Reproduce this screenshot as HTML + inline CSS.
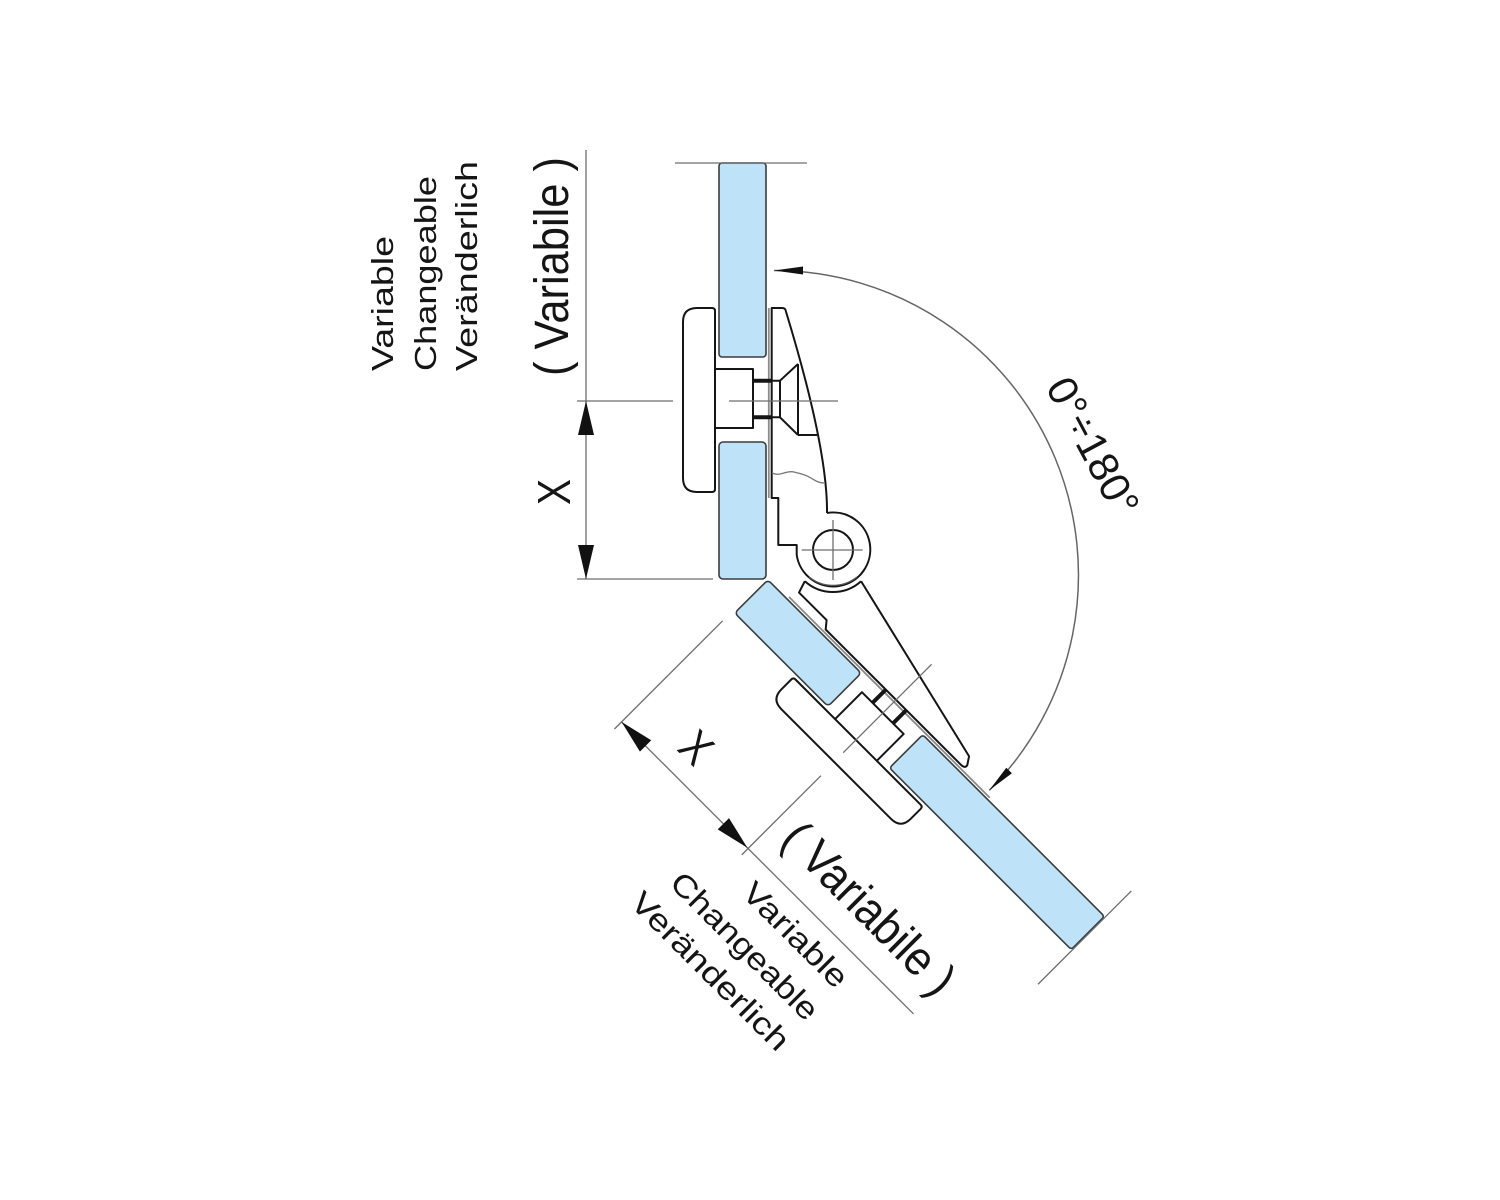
<!DOCTYPE html>
<html>
<head>
<meta charset="utf-8">
<style>
html,body{margin:0;padding:0;background:#fff;}
svg{display:block;}
text{font-family:"Liberation Sans",Arial,sans-serif;fill:#151515;}
.gl{fill:#bee3f8;stroke:#3c3c3c;stroke-width:1.6;}
.k{fill:none;stroke:#151515;stroke-width:2;stroke-linejoin:round;}
.c{fill:none;stroke:#6e6e6e;stroke-width:1.3;}
.gk{fill:none;stroke:#8a8a8a;stroke-width:1.8;}
.th{fill:none;stroke:#151515;stroke-width:4;}
.ar{fill:#111;stroke:none;}
</style>
</head>
<body>
<svg width="1500" height="1200" viewBox="0 0 1500 1200" xmlns="http://www.w3.org/2000/svg">
<rect width="1500" height="1200" fill="#fff"/>

<!-- ================= TOP ASSEMBLY (p,q frame) ================= -->
<g transform="matrix(0,-1,1,0,766,579)">
  <!-- glass -->
  <rect x="0" y="-47" width="137" height="47" rx="4" class="gl"/>
  <rect x="222" y="-47" width="194" height="47" rx="3" class="gl"/>
  <line x1="416" y1="-91" x2="416" y2="41" class="c"/>
  <!-- gasket -->
  <line x1="81" y1="2.8" x2="271" y2="2.8" class="gk"/>
  <!-- knob / cover -->
  <path d="M90,-51 L268,-51 Q271,-51 271,-54 L271,-69 Q271,-83 257,-83 L101,-83 Q87,-83 87,-69 L87,-54 Q87,-51 90,-51 Z" fill="#fff" class="k"/>
  <!-- bushing -->
  <path d="M151,-51 L151,-13 L210,-13 L210,-51" class="k"/>
  <!-- neck -->
  <path d="M161.7,-13 L161.7,5.7 M198.3,-13 L198.3,5.7" class="th"/>
  <path d="M161.7,5.7 L161.7,14 M198.3,5.7 L198.3,14" class="k"/>
  <!-- countersunk head -->
  <path d="M161.7,14 L198.3,14 M198.3,14 L215,32 M161.7,14 L144,32 M144,32 L215,32 M144,32 L144,51" class="k"/>
  <!-- hinge body -->
  <path d="M24,30.7 L34,30.7 L34,12.3 L81,12.3 L81,5.7 L271,5.7 L271,16 Q271,19.5 268,19.8 Q130.5,61.75 66,61" class="k"/>
  <!-- screw centerline -->
  <line x1="178" y1="-37" x2="178" y2="72" class="c"/>
</g>

<!-- boss and pivot (absolute) -->
<path d="M827,513 A37,37 0 1 1 796.7,555" class="k"/>
<path d="M861.1,581.2 A42,42 0 0 1 804.9,581.2" class="k"/>
<path d="M857,577 A38.5,38.5 0 0 1 809,577" fill="none" stroke="#555" stroke-width="1.3"/>
<circle cx="833" cy="550" r="20" class="k"/>
<line x1="801.7" y1="550" x2="862.7" y2="550" class="c"/>
<line x1="833" y1="520" x2="833" y2="580" class="c"/>
<!-- wavy break line -->
<path d="M772,473 C780,477 786,470 794,472 S806,475 811,478 S819,483 824,483" fill="none" stroke="#777" stroke-width="1.3"/>

<!-- top dimensions -->
<line x1="586" y1="150" x2="586" y2="579" class="c"/>
<line x1="577" y1="579" x2="713" y2="579" class="c"/>
<line x1="577" y1="401" x2="673" y2="401" class="c"/>
<polygon points="586,401 578,435 594,435" class="ar"/>
<polygon points="586,579 578,545 594,545" class="ar"/>

<!-- ================= LOWER ASSEMBLY (p,q frame, mirrored & rotated) ================= -->
<g transform="matrix(0.7071,0.7071,0.7071,-0.7071,767.9,579.8)">
  <rect x="0" y="-47" width="132" height="47" rx="4" class="gl"/>
  <rect x="219" y="-47" width="257" height="47" rx="3" class="gl"/>
  <line x1="477" y1="-95" x2="477" y2="37" class="c"/>
  <!-- gasket -->
  <line x1="27" y1="2.8" x2="311" y2="2.8" class="gk"/>
  <!-- knob -->
  <path d="M90,-51 L267,-51 Q270,-51 270,-54 L270,-68 Q270,-82 256,-82 L101,-82 Q87,-82 87,-68 L87,-54 Q87,-51 90,-51 Z" fill="#fff" class="k"/>
  <!-- bushing -->
  <path d="M146,-51 L146,-13 L205,-13 L205,-51" class="k"/>
  <!-- neck -->
  <path d="M161,-13 L161,5.7 M190,-13 L190,5.7" class="th"/>
  <!-- arm -->
  <path d="M27.1,25.2 L31,13 L70,13 L76,5.7 L268,5.7 Q273,6 272,10 L267,17.5 L66.9,64.9" class="k"/>
  <!-- screw centerline -->
  <line x1="175.5" y1="-69" x2="175.5" y2="56" class="c"/>
  <!-- dimensions -->
  <line x1="-3" y1="-204" x2="410" y2="-204" class="c"/>
  <line x1="-3" y1="-214" x2="-3" y2="-61" class="c"/>
  <line x1="176" y1="-213" x2="176" y2="-101" class="c"/>
  <polygon points="-3,-204 31,-212 31,-196" class="ar"/>
  <polygon points="175,-204 141,-212 141,-196" class="ar"/>
</g>

<!-- ================= ANGLE ARC ================= -->
<path d="M774,270.5 A304.5,304.5 0 0 1 989.3,790.3" fill="none" stroke="#666" stroke-width="1.5"/>
<polygon points="774,270.5 803,266.5 803,274.5" class="ar"/>
<polygon points="989.3,790.3 1011.9,773.3 1006.3,767.7" class="ar"/>

<!-- ================= TEXT ================= -->
<text transform="translate(393,371) rotate(-90)" font-size="31" textLength="135" lengthAdjust="spacingAndGlyphs">Variable</text>
<text transform="translate(436,371) rotate(-90)" font-size="31" textLength="195" lengthAdjust="spacingAndGlyphs">Changeable</text>
<text transform="translate(477,371) rotate(-90)" font-size="31" textLength="210" lengthAdjust="spacingAndGlyphs">Veränderlich</text>
<text transform="translate(568,376) rotate(-90)" font-size="48" textLength="219" lengthAdjust="spacingAndGlyphs">( Variabile )</text>
<text transform="translate(570,505) rotate(-90)" font-size="46" textLength="26" lengthAdjust="spacingAndGlyphs">X</text>

<text transform="translate(740.3,894.5) rotate(45)" font-size="31" textLength="135" lengthAdjust="spacingAndGlyphs">Variable</text>
<text transform="translate(668.2,884.6) rotate(45)" font-size="31" textLength="195" lengthAdjust="spacingAndGlyphs">Changeable</text>
<text transform="translate(628.6,904.4) rotate(45)" font-size="31" textLength="210" lengthAdjust="spacingAndGlyphs">Veränderlich</text>
<text transform="translate(779.2,841.4) rotate(45)" font-size="48" textLength="222" lengthAdjust="spacingAndGlyphs">( Variabile )</text>
<text transform="translate(676,749.5) rotate(45)" font-size="46" textLength="26" lengthAdjust="spacingAndGlyphs">X</text>

<text transform="translate(1045,387) rotate(62)" font-size="42" textLength="150" lengthAdjust="spacingAndGlyphs">0°÷180°</text>
</svg>
</body>
</html>
